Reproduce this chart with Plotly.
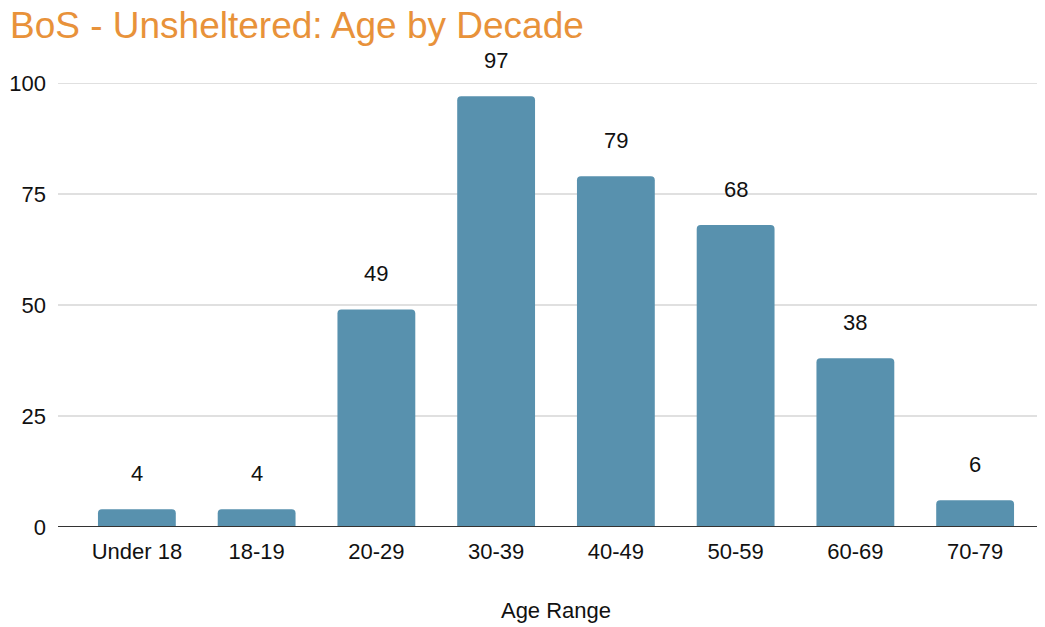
import plotly.graph_objects as go

categories = ["Under 18", "18-19", "20-29", "30-39", "40-49", "50-59", "60-69", "70-79"]
counts = [4, 4, 49, 97, 79, 68, 38, 6]
y_ticks = [0, 25, 50, 75, 100]

# page body has an 8px margin, so the figure is offset by 8px
W, H = 1037, 619
L, R, T, B = 69, 10, 75, 100
plot_w = W - L - R
grid_x0 = (50 - L) / plot_w
grid_x1 = (W - L) / plot_w

FONT = "Liberation Sans, Arial, sans-serif"

fig = go.Figure()
fig.add_trace(go.Bar(
    x=categories, y=counts,
    marker=dict(color="#5891ae", cornerradius=4, line=dict(width=0)),
    hoverinfo="x+y",
))

annotations = [
    dict(x=c, y=v, xref="x", yref="y", text=str(v), showarrow=False,
         yanchor="bottom", yshift=21, font=dict(family=FONT, size=22, color="#111111"))
    for c, v in zip(categories, counts)
]

shapes = []
for t in y_ticks:
    shapes.append(dict(type="line", xref="paper", yref="y", x0=grid_x0, x1=grid_x1, y0=t, y1=t,
                       line=dict(color="#333333" if t == 0 else "#d6d6d6", width=2 if t == 0 else 1.5),
                       layer="below" if t != 0 else "above"))

fig.update_layout(
    width=W, height=H,
    margin=dict(l=L, r=R, t=T, b=B, pad=0, autoexpand=False),
    paper_bgcolor="white", plot_bgcolor="white",
    title=dict(text="BoS - Unsheltered: Age by Decade", x=2 / W, xanchor="left",
               xref="container", y=1, yanchor="top", yref="container",
               pad=dict(t=4, l=0),
               font=dict(family=FONT, size=37, color="#e8923a")),
    bargap=0.35,
    showlegend=False,
    annotations=annotations,
    shapes=shapes,
    xaxis=dict(
        range=[-0.5, 7.5], showgrid=False, showline=False, zeroline=False,
        automargin=False,
        ticks="outside", ticklen=5, tickcolor="rgba(0,0,0,0)",
        tickfont=dict(family=FONT, size=22, color="#111111"),
        title=dict(text="Age Range", standoff=39, font=dict(family=FONT, size=22, color="#111111")),
    ),
    yaxis=dict(
        range=[0, 100], tickvals=y_ticks, showgrid=False, zeroline=False, showline=False,
        automargin=False,
        ticks="", ticklabelstandoff=30,
        tickfont=dict(family=FONT, size=22, color="#111111"),
    ),
)

fig.write_html("out.html")
